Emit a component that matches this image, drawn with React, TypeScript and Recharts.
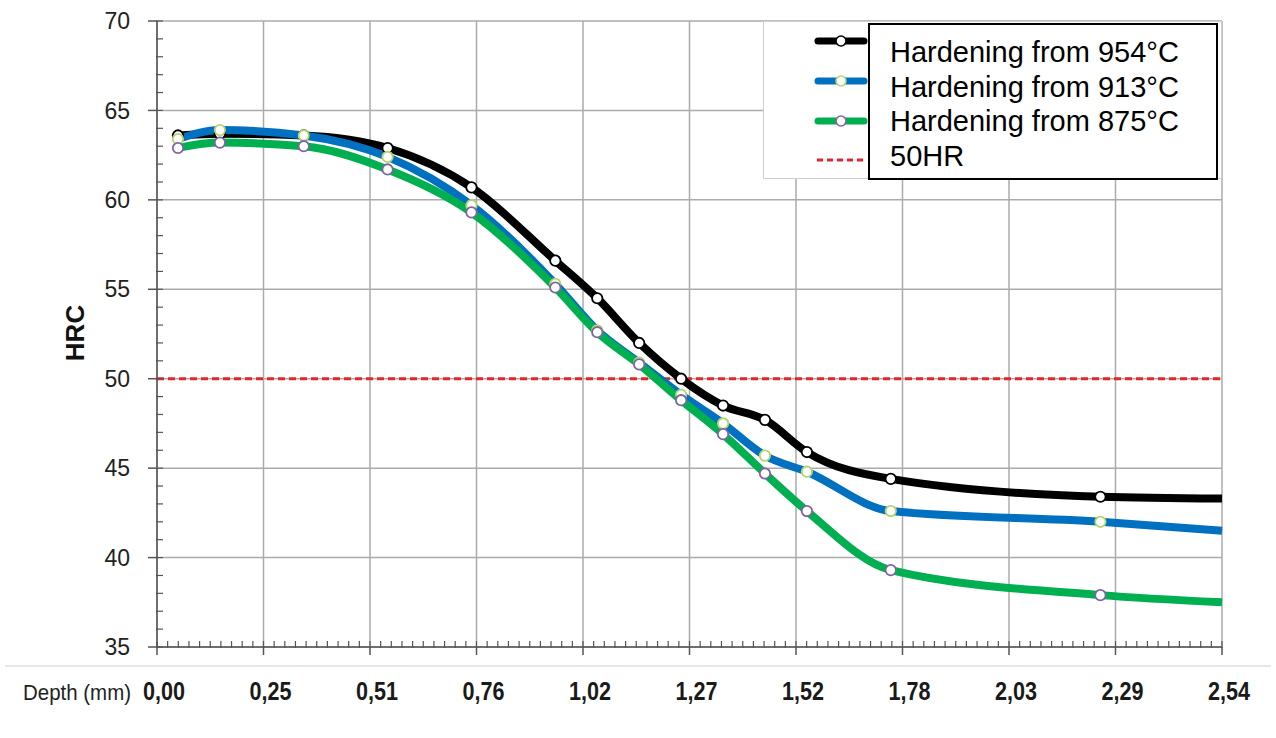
import React from "react";
import {
  LineChart,
  Line,
  XAxis,
  YAxis,
  CartesianGrid,
  ReferenceLine,
} from "recharts";

// depth of each hardness reading, mm
const depths = [0.05, 0.15, 0.35, 0.55, 0.75, 0.95, 1.05, 1.15, 1.25, 1.35, 1.45, 1.55, 1.75, 2.25, 2.54];
const hard954 = [63.6, 63.7, 63.6, 62.9, 60.7, 56.6, 54.5, 52.0, 50.0, 48.5, 47.7, 45.9, 44.4, 43.4, 43.3];
const hard913 = [63.4, 63.9, 63.6, 62.4, 59.7, 55.3, 52.7, 50.9, 49.1, 47.5, 45.7, 44.8, 42.6, 42.0, 41.5];
const hard875 = [62.9, 63.2, 63.0, 61.7, 59.3, 55.1, 52.6, 50.8, 48.8, 46.9, 44.7, 42.6, 39.3, 37.9, 37.5];

const depthTicks = [0, 0.254, 0.508, 0.762, 1.016, 1.27, 1.524, 1.778, 2.032, 2.286, 2.54];
const depthLabels = ["0,00", "0,25", "0,51", "0,76", "1,02", "1,27", "1,52", "1,78", "2,03", "2,29", "2,54"];
const minorDepthTicks = Array.from({ length: 101 }, (_, i) => +(i * 0.0254).toFixed(4));
const hrcTicks = [35, 40, 45, 50, 55, 60, 65, 70];
const hrcMinorTicks = Array.from({ length: 36 }, (_, i) => 35 + i);
const threshold = 50;

const seriesInfo = [
  { key: "h954", name: "Hardening from 954°C", color: "#000000", outline: "#000000" },
  { key: "h913", name: "Hardening from 913°C", color: "#0070c0", outline: "#b4d46c" },
  { key: "h875", name: "Hardening from 875°C", color: "#00b050", outline: "#8064a2" },
];

const rows = depths.map((d, i) => ({
  depth: d,
  h954: hard954[i],
  h913: hard913[i],
  h875: hard875[i],
}));

const FONT = "'Liberation Sans', Arial, sans-serif";
const NARROW = "'Liberation Sans Narrow', 'Arial Narrow', 'Liberation Sans', Arial, sans-serif";

const makeDot = (outline: string) => (props: any) => {
  const { cx, cy, index } = props;
  if (index === depths.length - 1 || cx == null || cy == null) {
    return <g key={`nodot-${index}`} />;
  }
  return (
    <circle
      key={`dot-${index}`}
      cx={cx}
      cy={cy}
      r={5.2}
      fill="#ffffff"
      stroke={outline}
      strokeWidth={1.8}
    />
  );
};

function DepthTick(props: any) {
  const { x, y, payload } = props;
  const idx = depthTicks.findIndex((t) => Math.abs(t - payload.value) < 1e-6);
  if (idx < 0) return null;
  return (
    <text
      x={x + 7}
      y={y + 43}
      textAnchor="middle"
      fontFamily={NARROW}
      fontWeight="bold"
      fontSize={26}
      fill="#1a1a1a"
      textLength={42}
      lengthAdjust="spacingAndGlyphs"
    >
      {depthLabels[idx]}
    </text>
  );
}

// small inward tick on the x axis
function MinorXTick(props: any) {
  const { x, y } = props;
  return <line x1={x} y1={y - 7} x2={x} y2={y} stroke="#555" strokeWidth={1.2} />;
}

// small inward tick on the y axis
function MinorYTick(props: any) {
  const { x, y } = props;
  return <line x1={x} y1={y} x2={x + 7} y2={y} stroke="#555" strokeWidth={1.2} />;
}

function Overlay() {
  const rowsY = [41, 81, 121];
  const textY = [62, 97, 131, 166];
  return (
    <svg
      width={1276}
      height={738}
      style={{ position: "absolute", left: 0, top: 0, pointerEvents: "none" }}
    >
      {/* separator under the plot */}
      <line x1={5} y1={666} x2={1271} y2={666} stroke="#e6e6e6" strokeWidth={2} />
      <text
        x={23}
        y={700}
        fontFamily={NARROW}
        fontSize={22}
        fill="#222"
        textLength={108}
        lengthAdjust="spacingAndGlyphs"
      >
        Depth (mm)
      </text>
      <text
        x={0}
        y={0}
        transform="translate(84,333) rotate(-90)"
        textAnchor="middle"
        fontFamily={FONT}
        fontWeight="bold"
        fontSize={26}
        fill="#111"
      >
        HRC
      </text>

      {/* legend */}
      <rect x={763.5} y={21.5} width={458} height={157} fill="#ffffff" stroke="#cfcfcf" strokeWidth={1} />
      {seriesInfo.map((s, i) => (
        <g key={s.key}>
          <line
            x1={818}
            y1={rowsY[i]}
            x2={864}
            y2={rowsY[i]}
            stroke={s.color}
            strokeWidth={7}
            strokeLinecap="round"
          />
          <circle cx={841} cy={rowsY[i]} r={5} fill="#fff" stroke={s.outline} strokeWidth={1.6} />
        </g>
      ))}
      <line
        x1={817}
        y1={160}
        x2={864}
        y2={160}
        stroke="#e8242a"
        strokeWidth={3}
        strokeDasharray="6 4"
      />
      <rect x={869} y={24} width={348} height={155} fill="#ffffff" stroke="#000" strokeWidth={2} />
      {seriesInfo.map((s, i) => (
        <text key={s.key} x={890} y={textY[i]} fontFamily={FONT} fontSize={29} fill="#000">
          {s.name}
        </text>
      ))}
      <text x={890} y={textY[3]} fontFamily={FONT} fontSize={29} fill="#000">
        50HR
      </text>
    </svg>
  );
}

export default function App() {
  return (
    <div
      style={{
        position: "absolute",
        left: 0,
        top: 0,
        width: 1276,
        height: 738,
        background: "#ffffff",
      }}
    >
      <LineChart
        width={1276}
        height={738}
        data={rows}
        margin={{ top: 21, right: 54, bottom: 0, left: 0 }}
      >
        <CartesianGrid stroke="#ababab" strokeWidth={1.5} />
        {/* main axes hug the plot (thin), minor-tick axes sit outside them */}
        <XAxis
          dataKey="depth"
          type="number"
          domain={[0, 2.54]}
          ticks={depthTicks}
          interval={0}
          tick={<DepthTick />}
          tickSize={8}
          height={1}
          axisLine={{ stroke: "#555", strokeWidth: 1.5 }}
          tickLine={{ stroke: "#555", strokeWidth: 1.5 }}
        />
        <XAxis
          xAxisId="minor"
          dataKey="depth"
          type="number"
          domain={[0, 2.54]}
          ticks={minorDepthTicks}
          interval={0}
          tick={<MinorXTick />}
          tickSize={0}
          tickMargin={0}
          height={90}
          axisLine={false}
          tickLine={false}
        />
        <YAxis
          type="number"
          domain={[35, 70]}
          ticks={hrcTicks}
          interval={0}
          width={1}
          tickSize={9}
          tickMargin={18}
          axisLine={{ stroke: "#555", strokeWidth: 1.5 }}
          tickLine={{ stroke: "#555", strokeWidth: 1.5 }}
          tick={{ fontFamily: FONT, fontSize: 23, fill: "#222" }}
        />
        <YAxis
          yAxisId="minor"
          dataKey="h954"
          type="number"
          domain={[35, 70]}
          allowDataOverflow
          ticks={hrcMinorTicks}
          interval={0}
          tick={<MinorYTick />}
          tickSize={0}
          tickMargin={0}
          width={156}
          axisLine={false}
          tickLine={false}
        />
        <ReferenceLine
          y={threshold}
          stroke="#e8242a"
          strokeWidth={3}
          strokeDasharray="7 4"
        />
        {seriesInfo.map((s) => (
          <Line
            key={s.key}
            dataKey={s.key}
            name={s.name}
            type="monotone"
            stroke={s.color}
            strokeWidth={8}
            dot={makeDot(s.outline)}
            activeDot={false}
            isAnimationActive={false}
          />
        ))}
      </LineChart>
      <Overlay />
    </div>
  );
}
